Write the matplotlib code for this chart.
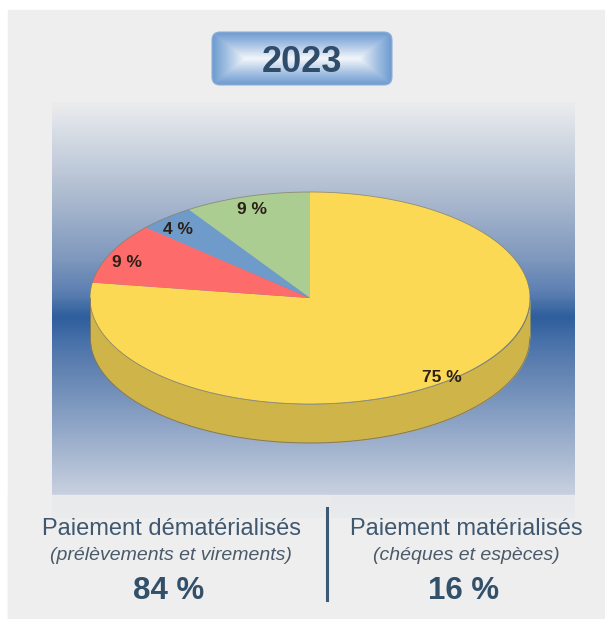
import numpy as np
import matplotlib
matplotlib.use("Agg")
import matplotlib.pyplot as plt
from matplotlib.colors import LinearSegmentedColormap
from matplotlib.patches import Rectangle, FancyBboxPatch

plt.rcParams['font.family'] = ['Liberation Sans', 'DejaVu Sans']

# données
annee = "2023"
parts = [75, 9, 4, 9]
etiquettes = ["75 %", "9 %", "4 %", "9 %"]
couleurs = ['#fcd955', '#fe6b6b', '#6f9bcb', '#accd92']
titres = ["Paiement dématérialisés", "Paiement matérialisés"]
sous_titres = ["(prélèvements et virements)", "(chéques et espèces)"]
totaux = ["84 %", "16 %"]

W, H = 605, 619
fig = plt.figure(figsize=(W / 100, H / 100), dpi=100)
fig.patch.set_facecolor('white')

# axe de fond en pixels
bg = fig.add_axes([0, 0, 1, 1])
bg.set_xlim(0, W); bg.set_ylim(H, 0)
bg.axis('off')

bg.add_patch(Rectangle((8, 10), W - 8, H - 10, color='#eeeeee', zorder=0))

# panneau dégradé bleu
cmap_fond = LinearSegmentedColormap.from_list('fond', [
    (0.0, '#ececec'), (0.05, '#dde1e8'), (0.22, '#aebcd0'), (0.38, '#7d97bd'),
    (0.46, '#5b7eb1'), (0.517, '#2d5e9c'), (0.58, '#4a72aa'), (0.63, '#5c7fb0'),
    (0.79, '#93a8c8'), (0.92, '#bfcadb'), (1.0, '#d8dee6')])
grad = np.linspace(0, 1, 300).reshape(-1, 1)
bg.imshow(grad, cmap=cmap_fond, extent=[52, 575, 518, 102], aspect='auto',
          interpolation='bicubic', zorder=1)

# boîtes du bas
bg.add_patch(Rectangle((8, 495), 597, 124, color='#eeeeee', alpha=0.8, zorder=2))
bg.add_patch(Rectangle((8, 495), 322, 124, color='#eeeeee', alpha=0.4, zorder=2))
bg.plot([327, 327], [508, 600], color='#3d5a75', lw=2.2, zorder=3)

# bouton de l'année (effet biseauté)
bx, by, bw, bh = 212, 32, 180, 53
ii, jj = np.mgrid[0:bh, 0:bw]
dx = np.minimum(jj, bw - 1 - jj) / 32.0
dy = np.minimum(ii, bh - 1 - ii) / 25.0
v = np.clip(np.minimum(dx, dy), 0, 1)
cmap_btn = LinearSegmentedColormap.from_list('btn', ['#6e9bd1', '#a9c4e4', '#eef3f9'])
btn = FancyBboxPatch((bx, by), bw, bh, boxstyle="round,pad=0,rounding_size=8",
                     facecolor='none', edgecolor='#8fb0d8', lw=0.8, zorder=5)
bg.add_patch(btn)
im = bg.imshow(v, cmap=cmap_btn, extent=[bx, bx + bw, by + bh, by], aspect='auto',
               interpolation='bilinear', zorder=4)
im.set_clip_path(btn)
bg.text(bx + bw / 2, by + bh / 2 + 4, annee, ha='center', va='center', fontsize=26,
        fontweight='bold', color='#2f4d6a', zorder=6)

# textes du bas
centres = [171, 466]
for cx, t, st, tot in zip(centres, titres, sous_titres, totaux):
    bg.text(cx, 529, t, ha='center', va='center', fontsize=17, color='#3f5870', zorder=6)
    bg.text(cx, 556, st, ha='center', va='center', fontsize=14, style='italic',
            color='#4a5a6a', zorder=6)
    bg.text(cx - 2, 591, tot, ha='center', va='center', fontsize=22.5, fontweight='bold',
            color='#33506b', zorder=6)

bg.set_xlim(0, W); bg.set_ylim(H, 0)

# camembert 3D : ellipse a=220 px, b=106 px, centre (310, 298)
a_px, b_px, cx_px, cy_px = 220, 106, 310, 298
prof = 39 / b_px
ytop, ybot = 1.05, -1.5
ax = fig.add_axes([(cx_px - a_px) / W, 1 - (cy_px - ybot * b_px) / H,
                   2 * a_px / W, (ytop - ybot) * b_px / H])
ax.patch.set_alpha(0)

x = np.linspace(-1, 1, 400)
bas = -np.sqrt(1 - x ** 2)
ax.fill_between(x, bas, bas - prof, color='#cfb449', lw=0, zorder=1)
ax.plot(x, bas - prof, color='#7f7a60', lw=0.7, zorder=3)
ax.plot([-1, -1], [0, -prof], color='#7f7a60', lw=0.7, zorder=3)
ax.plot([1, 1], [0, -prof], color='#7f7a60', lw=0.7, zorder=3)

wedges, texts = ax.pie(parts, colors=couleurs, startangle=90, counterclock=False,
                       labels=etiquettes, labeldistance=0.92,
                       wedgeprops=dict(linewidth=0), normalize=True)
for w in wedges:
    w.set_zorder(2)
for t in texts:
    px, py = t.get_position()
    t.set_position((px, py - 0.05))
    t.set_ha('center'); t.set_va('center')
    t.set_fontsize(12.5); t.set_fontweight('bold'); t.set_color('#2b2116')
    t.set_zorder(4)

th = np.linspace(0, 2 * np.pi, 500)
ax.plot(np.cos(th), np.sin(th), color='#857f66', lw=0.6, alpha=0.8, zorder=3)

ax.set_aspect('auto')
ax.set_xlim(-1, 1)
ax.set_ylim(ybot, ytop)
ax.axis('off')

fig.savefig('out.png', dpi=100)
